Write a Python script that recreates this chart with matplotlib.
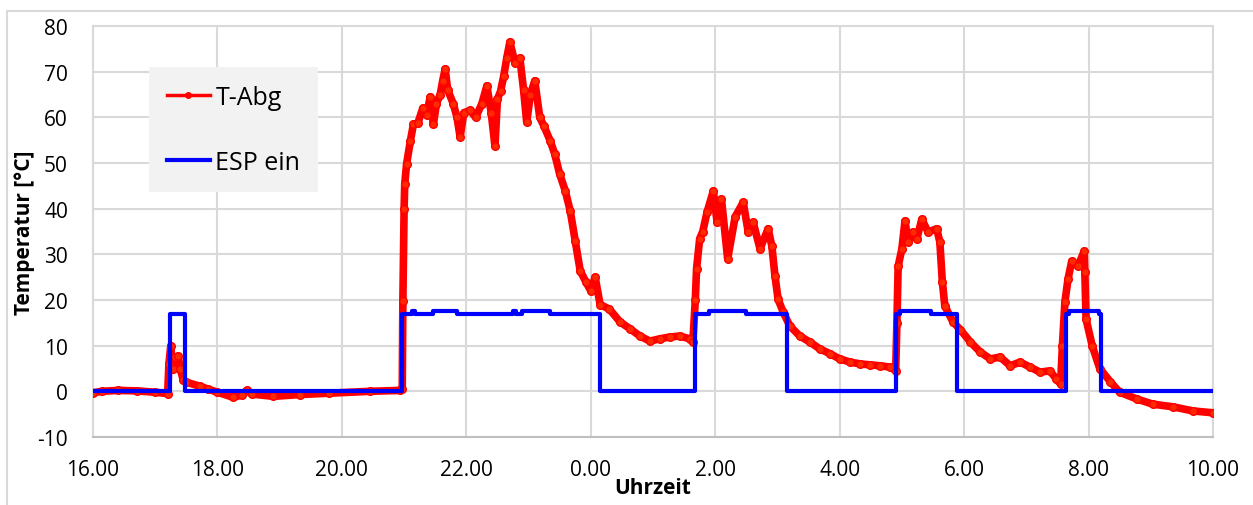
import matplotlib
matplotlib.use("Agg")
import matplotlib.pyplot as plt
from matplotlib.lines import Line2D
from matplotlib.patches import Rectangle

plt.rcParams['font.family'] = ['Open Sans', 'DejaVu Sans']
plt.rcParams['axes.unicode_minus'] = False

# time in hours (16 = 16.00, 24 = 0.00, 34 = 10.00 next day)
t_abg_h = [16.0, 16.15, 16.4, 16.7, 17.0, 17.2, 17.22, 17.25, 17.28, 17.32, 17.37, 17.4, 17.45,
           17.5, 17.72, 17.85, 18.0, 18.25, 18.4, 18.47, 18.55, 18.9, 19.33, 19.8, 20.45, 20.93,
           20.97, 20.98, 21.0, 21.01, 21.04, 21.1, 21.15, 21.22, 21.3, 21.36, 21.42, 21.47, 21.52,
           21.58, 21.62, 21.66, 21.7, 21.79, 21.85, 21.9, 21.96, 22.06, 22.15, 22.25, 22.33, 22.4,
           22.46, 22.5, 22.55, 22.6, 22.65, 22.7, 22.78, 22.86, 22.92, 22.97, 23.03, 23.1, 23.18,
           23.25, 23.35, 23.42, 23.5, 23.59, 23.67, 23.75, 23.83, 23.92, 24.0, 24.07, 24.15, 24.3,
           24.47, 24.63, 24.79, 24.95, 25.11, 25.27, 25.43, 25.59, 25.64, 25.68, 25.7, 25.75, 25.8,
           25.87, 25.97, 26.03, 26.1, 26.2, 26.32, 26.45, 26.53, 26.61, 26.72, 26.85, 26.91, 26.96,
           27.01, 27.09, 27.2, 27.36, 27.52, 27.68, 27.85, 28.0, 28.17, 28.33, 28.49, 28.65, 28.81,
           28.9, 28.92, 28.94, 29.0, 29.05, 29.1, 29.18, 29.24, 29.32, 29.42, 29.56, 29.61, 29.65,
           29.69, 29.82, 29.94, 30.1, 30.26, 30.42, 30.58, 30.74, 30.9, 31.06, 31.22, 31.38, 31.48,
           31.55, 31.58, 31.62, 31.67, 31.73, 31.83, 31.93, 31.94, 31.96, 32.06, 32.18, 32.35, 32.5,
           32.78, 33.03, 33.36, 33.68, 34.0]
t_abg = [-0.3, 0.0, 0.2, 0.1, -0.2, -0.5, 6, 10, 5, 7.5, 7.7, 5, 2.5,
         2.0, 1.1, 0.5, -0.2, -1.3, -0.8, 0.2, -0.6, -1.1, -0.7, -0.4, 0.0, 0.2,
         0.5, 19.8, 40, 45.4, 49.8, 54.8, 58.5, 58.7, 62, 60.5, 64.5, 58.5, 63,
         65, 68, 70.6, 66, 63, 60, 55.7, 61, 61.5, 60, 63, 66.9, 61,
         53.7, 64, 65.7, 69, 73, 76.5, 72, 73, 66, 59, 65, 68, 60,
         58, 54.8, 52, 47.6, 43.9, 39.5, 32.9, 26.4, 24, 22, 25, 19, 18,
         15.2, 13.7, 12.1, 11.0, 11.5, 11.9, 12.1, 11.5, 10.8, 20, 26.8, 33.4, 35,
         39.3, 43.9, 37, 42.1, 29, 38.2, 41.4, 34.9, 37, 31.2, 35.6, 31.8, 25.3,
         20.2, 17.4, 14.3, 12.1, 10.8, 9.3, 8.2, 7.1, 6.4, 6.0, 5.8, 5.6, 5.3,
         4.5, 15, 27.4, 31.2, 37.3, 32.7, 34.9, 33.4, 37.7, 34.9, 35.6, 32.7, 24,
         18.7, 15.2, 13.5, 10.8, 8.6, 7.1, 7.5, 5.6, 6.4, 5.3, 4.2, 4.5, 2.7,
         1.6, 10, 19.6, 24.6, 28.5, 27.4, 30.7, 26.1, 15.8, 9.9, 5.0, 2.1, -0.2,
         -1.7, -2.8, -3.4, -4.3, -4.7]

esp_h = [16.0, 17.24, 17.48, 20.97, 21.13, 21.17, 21.47, 21.85, 22.75, 22.8, 22.9, 23.35, 24.15,
         25.68, 25.9, 26.5, 27.16, 28.9, 28.97, 29.47, 29.88, 31.64, 31.69, 32.16, 32.2, 34.0]
esp_ein = [0, 17, 0, 17, 17.5, 17, 17.5, 17, 17.5, 17, 17.5, 17, 0,
           17, 17.5, 17, 0, 17, 17.5, 17, 0, 17, 17.5, 17, 0, 0]

x_ticks = list(range(16, 35, 2))
x_labels = [f"{h % 24}.00" for h in x_ticks]
y_ticks = list(range(-10, 81, 10))

fig = plt.figure(figsize=(12.53, 5.06), dpi=100)
ax = fig.add_axes([93 / 1253, 1 - 438 / 506, 1120 / 1253, 411 / 506])

# outer chart border
fig.patches.append(Rectangle((7 / 1253, -0.1), 1.2, 1 - 12 / 506 + 0.1, transform=fig.transFigure,
                             fill=False, edgecolor='#d9d9d9', lw=1.5))

ax.plot(t_abg_h, t_abg, color='red', lw=5.5, marker='o', ms=5.5, mfc='#ff2a00', mec='red',
        solid_joinstyle='round', solid_capstyle='round', zorder=3)
ax.plot(esp_h, esp_ein, color='#0000ff', lw=3, drawstyle='steps-post', zorder=4)

ax.set_xlim(16, 34)
ax.set_ylim(-10, 80)
ax.set_xticks(x_ticks)
ax.set_xticklabels(x_labels)
ax.set_yticks(y_ticks)
ax.grid(True, color='#d9d9d9', lw=1.5)
ax.set_axisbelow(True)
for side in ['top', 'left', 'right']:
    ax.spines[side].set_color('#d9d9d9')
    ax.spines[side].set_linewidth(1.5)
ax.spines['bottom'].set_color('#bfbfbf')
ax.spines['bottom'].set_linewidth(1.5)
ax.tick_params(axis='both', length=0, labelsize=15, colors='#000000')
ax.tick_params(axis='x', pad=16)
ax.tick_params(axis='y', pad=18)

ax.set_xlabel('Uhrzeit', fontsize=15, fontweight='bold', labelpad=-2)
ax.set_ylabel('Temperatur [°C]', fontsize=15, fontweight='bold', labelpad=2)

handles = [Line2D([], [], color='red', lw=2.5, marker='o', ms=4),
           Line2D([], [], color='#0000ff', lw=3)]
leg = ax.legend(handles, ['T-Abg', 'ESP ein'], loc='upper left', bbox_to_anchor=(0.05, 0.9),
                borderaxespad=0, fontsize=18, frameon=True, fancybox=False, facecolor='#f2f2f2',
                edgecolor='none', framealpha=1, handlelength=1.75, handletextpad=0.2,
                labelspacing=1.6, borderpad=0.7)

fig.savefig('out.png', dpi=100)
